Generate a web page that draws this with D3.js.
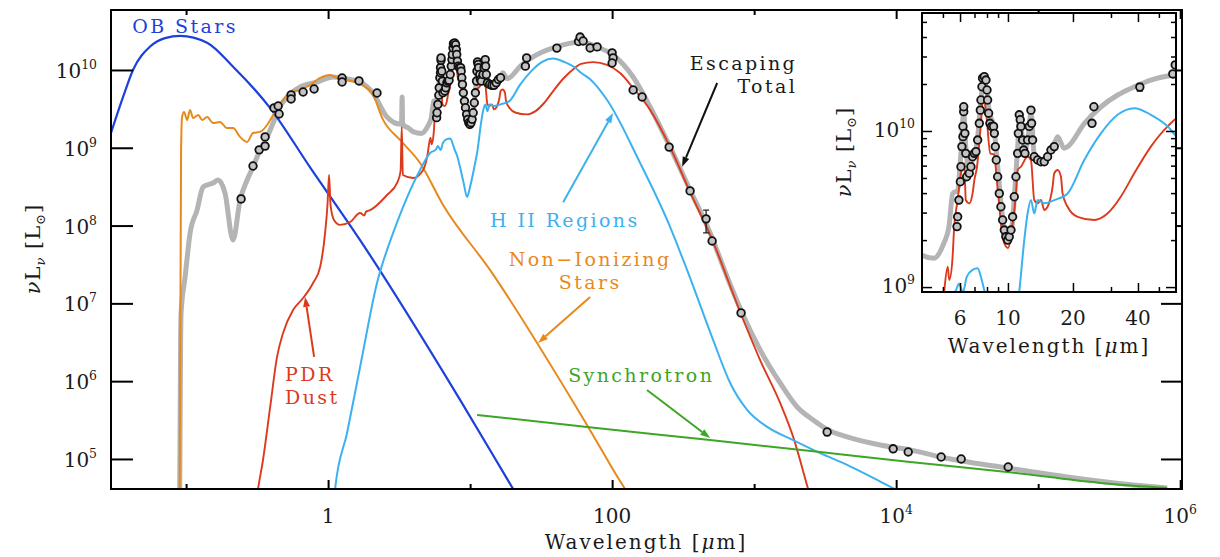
<!DOCTYPE html>
<html>
<head>
<meta charset="utf-8">
<script src="https://cdn.jsdelivr.net/npm/d3@7"></script>
<style>
  body { margin: 0; background: #fff; }
  svg text { font-family: "DejaVu Serif", serif; fill: #1a1a1a; }
</style>
</head>
<body>
<svg id="chart" width="1220" height="557"></svg>
<script>
// wavelength [micron], nu L_nu [L_sun]
const obStars = [
  [0.0296, 1.55e9], [0.036, 4.5e9], [0.0423, 1.0e10], [0.0558, 2.0e10], [0.0711, 2.57e10],
  [0.0907, 2.75e10], [0.1406, 2.24e10], [0.2143, 1.1e10], [0.391, 3.24e9], [0.747, 5.6e8],
  [1.68, 6.5e7], [8.5, 5.75e5], [20.1, 4.1e4], [31, 1.1e4]
];

const nonIonizing = [
  [0.0900, 2.0e4], [0.0922, 9.3e8], [0.0937, 2.49e9], [0.0968, 2.88e9], [0.1017, 2.28e9],
  [0.1067, 3.06e9], [0.112, 2.42e9], [0.1218, 2.64e9], [0.1299, 2.28e9], [0.1406, 2.49e9],
  [0.155, 2.08e9], [0.1735, 2.15e9], [0.194, 1.79e9], [0.214, 1.79e9], [0.240, 1.38e9],
  [0.269, 1.19e9], [0.296, 1.55e9], [0.332, 1.6e9], [0.372, 1.96e9], [0.403, 2.49e9],
  [0.437, 3.25e9], [0.482, 4.11e9], [0.540, 5.06e9], [0.635, 5.53e9], [0.747, 6.41e9],
  [0.878, 7.89e9], [1.033, 8.63e9], [1.157, 7.89e9], [1.36, 7.43e9], [1.68, 6.61e9],
  [2.07, 4.79e9], [2.44, 2.28e9], [3.21, 1.26e9], [4.44, 6.38e8], [6.45, 1.84e8],
  [13.8, 2.69e7], [67.8, 2.58e5], [123.5, 4.1e4], [157, 2.2e4]
];

const pdrDust = [
  [0.306, 2.2e4], [0.321, 4.1e4], [0.348, 9.7e4], [0.391, 4.66e5], [0.437, 2.05e6],
  [0.482, 4.17e6], [0.567, 8.2e6], [0.667, 1.17e7], [0.784, 1.83e7], [0.879, 2.94e7],
  [0.952, 8.0e7], [0.990, 1.84e8], [1.016, 4.47e8], [1.04, 1.84e8], [1.10, 1.18e8],
  [1.215, 1.02e8], [1.43, 1.11e8], [1.68, 1.45e8], [1.80, 1.35e8], [1.85, 1.51e8],
  [1.98, 1.58e8], [2.60, 2.47e8], [3.06, 3.53e8], [3.24, 5.0e8], [3.30, 1.85e9],
  [3.36, 4.47e8], [3.97, 4.09e8], [4.67, 5.19e8], [4.98, 7.59e8], [5.26, 1.35e9],
  [5.35, 1.11e9], [5.53, 1.49e9], [5.64, 2.44e9], [5.85, 3.61e9], [6.06, 5.36e9],
  [6.28, 6.21e9], [6.38, 3.61e9], [6.62, 3.44e9], [6.86, 3.98e9], [6.99, 4.85e9],
  [7.19, 5.9e9], [7.45, 1.0e10], [7.7, 1.66e10], [7.95, 1.26e10], [8.28, 7.19e9],
  [8.6, 7.08e9], [9.0, 3.98e9], [9.5, 2.0e9], [10.0, 1.78e9], [10.5, 2.51e9],
  [10.9, 3.98e9], [11.09, 5.62e9], [11.49, 5.9e9], [12.33, 6.84e9], [12.78, 6.52e9],
  [13.24, 3.61e9], [13.72, 3.44e9], [14.22, 3.61e9], [14.73, 3.12e9], [15.26, 3.27e9],
  [16.1, 4.4e9], [16.39, 5.36e9], [16.98, 5.62e9], [17.6, 5.09e9], [17.9, 3.98e9],
  [18.89, 3.27e9], [21.0, 2.82e9], [25.1, 2.69e9], [28.9, 2.96e9], [33.3, 3.79e9],
  [38.45, 5.36e9], [45.9, 7.94e9], [54.9, 1.07e10], [60.4, 1.2e10], [73.5, 1.26e10],
  [92.2, 1.16e10], [113.8, 9.14e9], [140.6, 5.87e9], [185.3, 3.06e9], [256, 1.02e9],
  [354, 2.69e8], [490, 7.59e7], [823, 6.68e6], [1102, 1.87e6], [1524, 5.25e5],
  [1883, 1.92e5], [2400, 4.1e4], [2690, 2.0e4]
];

const hiiRegions = [
  [1.084, 2.2e4], [1.12, 4.1e4], [1.36, 2.16e5], [1.68, 1.52e6], [2.21, 1.83e7],
  [2.87, 8.04e7], [3.37, 1.73e8], [4.44, 5.19e8], [5.23, 8.57e8], [5.75, 9.55e8],
  [5.93, 1.05e9], [6.2, 9.33e8], [6.44, 1.16e9], [6.86, 1.29e9], [7.24, 1.32e9],
  [7.5, 1.16e9], [7.77, 9.55e8], [8.09, 7.94e8], [8.5, 5.62e8], [9.0, 3.55e8],
  [9.52, 2.34e8], [10.0, 3.16e8], [10.7, 5.62e8], [11.28, 9.33e8], [11.9, 2.0e9],
  [12.33, 2.96e9], [12.78, 3.61e9], [13.24, 2.96e9], [13.72, 3.61e9], [14.73, 3.44e9],
  [16.39, 3.61e9], [18.89, 3.98e9], [22.56, 6.52e9], [26.96, 9.66e9], [32.19, 1.27e10],
  [38.45, 1.40e10], [45.9, 1.27e10], [54.9, 1.07e10], [60.4, 9.2e9], [70, 7.6e9],
  [92.2, 4.11e9], [157.5, 6.38e8], [244, 1.18e8], [337, 2.69e7], [514, 3.39e6],
  [678, 9.48e5], [893, 4.27e5], [1236, 2.58e5], [1883, 1.75e5], [2916, 1.19e5],
  [4519, 8.38e4], [6887, 5.7e4], [9840, 4.1e4], [11560, 3.55e4]
];

const synchrotron = [
  [11.2, 3.68e5], [66.7, 2.58e5], [490, 1.75e5], [2916, 1.23e5], [12550, 9.14e4],
  [60500, 6.81e4], [2.73e5, 4.92e4], [8.1e5, 4.24e4]
];

const escapingTotal = [
  [0.0900, 2.0e4], [0.0915, 3.2e6], [0.0922, 7.5e6], [0.0984, 2.18e7], [0.1067, 8.0e7],
  [0.1195, 1.58e8], [0.1318, 3.13e8], [0.155, 3.53e8], [0.168, 3.85e8], [0.188, 2.62e8],
  [0.214, 6.5e7], [0.240, 2.13e8], [0.269, 3.85e8], [0.296, 5.66e8], [0.332, 9.4e8],
  [0.372, 1.38e9], [0.410, 2.08e9], [0.445, 3.06e9], [0.514, 4.5e9], [0.635, 6.04e9],
  [0.837, 7.0e9], [1.084, 8.13e9], [1.36, 7.66e9], [1.68, 7.0e9], [2.07, 5.06e9],
  [2.60, 2.49e9], [3.21, 2.02e9], [3.29, 2.02e9], [3.32, 4.5e9], [3.35, 2.0e9],
  [3.7, 1.78e9], [4.0, 1.6e9], [4.54, 1.53e9], [5.05, 1.91e9], [5.33, 2.43e9],
  [5.55, 3.98e9], [5.85, 4.17e9], [6.05, 7.08e9], [6.24, 1.32e10], [6.38, 7.94e9],
  [6.6, 5.75e9], [6.9, 6.76e9], [7.2, 8.51e9], [7.5, 1.58e10], [7.7, 2.14e10],
  [7.95, 1.86e10], [8.2, 1.32e10], [8.6, 1.07e10], [8.9, 6.61e9], [9.3, 3.39e9],
  [9.7, 2.19e9], [10.0, 2.0e9], [10.4, 2.34e9], [10.8, 4.47e9], [11.1, 7.94e9],
  [11.3, 1.23e10], [11.6, 9.55e9], [12.0, 7.59e9], [12.4, 9.12e9], [12.8, 1.32e10],
  [13.2, 7.24e9], [14.0, 6.46e9], [15.3, 6.92e9], [16.4, 8.32e9], [17.0, 9.2e9],
  [18.2, 7.74e9], [18.9, 7.94e9], [22.6, 1.12e10], [27.0, 1.43e10], [32.2, 1.70e10],
  [38.5, 1.92e10], [45.9, 2.12e10], [54.9, 2.25e10], [60.4, 2.29e10], [78.4, 1.98e10],
  [101.6, 1.56e10], [140.6, 8.13e9], [185.3, 3.34e9], [256, 1.02e9], [354, 2.87e8],
  [490, 8.04e7], [646, 2.18e7], [823, 7.53e6], [1102, 2.52e6], [1524, 9.48e5],
  [2009, 4.66e5], [2603, 3.17e5], [3319, 2.36e5], [4519, 1.92e5], [7715, 1.51e5],
  [12550, 1.31e5], [20430, 1.06e5], [60500, 7.66e4], [1.6e5, 5.87e4], [4.67e5, 4.63e4],
  [8.1e5, 4.24e4]
];

// observed photometry
const photometry = [
  [0.244, 2.2e8], [0.296, 5.83e8], [0.327, 9.4e8], [0.360, 1.05e9], [0.360, 1.38e9],
  [0.416, 3.25e9], [0.445, 3.44e9], [0.452, 2.72e9], [0.549, 4.78e9], [0.549, 4.24e9],
  [0.667, 5.21e9], [0.797, 5.7e9], [1.255, 7.89e9], [1.255, 7.0e9], [1.65, 7.23e9],
  [2.21, 5.06e9], [24.5, 1.12e10], [25.0, 1.43e10], [40.8, 1.91e10], [58.0, 2.32e10],
  [59.5, 2.65e10], [62.5, 2.36e10], [70, 1.92e10], [78.4, 1.98e10], [100, 1.66e10],
  [101.6, 1.43e10], [100, 1.23e10], [140.6, 5.53e9], [162.6, 4.5e9], [252, 1.02e9],
  [354, 2.79e8], [459, 1.22e8], [506, 6.34e7], [809, 7.53e6], [3266, 2.22e5],
  [9530, 1.35e5], [12160, 1.23e5], [20750, 1.06e5], [28700, 1.0e5], [61500, 7.89e4]
];

// [wavelength, low, high]
const photErrors = [
  [0.244, 2.0e8, 2.45e8], [0.360, 0.96e9, 1.15e9], [0.549, 4.0e9, 4.5e9],
  [40.8, 1.80e10, 2.02e10], [459, 8.04e7, 1.58e8], [3266, 2.0e5, 2.45e5]
];

// mid-IR spectrum
const pahSpectrum = [
  [5.81, 2.44e9], [5.85, 2.82e9], [5.93, 3.61e9], [6.02, 4.73e9], [6.06, 5.90e9],
  [6.12, 7.94e9], [6.19, 9.20e9], [6.19, 1.07e10], [6.24, 1.33e10], [6.24, 1.43e10],
  [6.32, 9.66e9], [6.38, 7.19e9], [6.44, 5.09e9], [6.62, 5.36e9], [6.74, 5.90e9],
  [6.86, 6.84e9], [6.99, 7.19e9], [7.11, 7.38e9], [7.24, 8.75e9], [7.37, 1.12e10],
  [7.45, 1.36e10], [7.50, 1.58e10], [7.58, 1.92e10], [7.63, 2.18e10], [7.77, 2.23e10],
  [7.91, 2.12e10], [8.00, 1.83e10], [8.05, 1.58e10], [8.14, 1.30e10], [8.25, 1.12e10],
  [8.40, 1.07e10], [8.58, 1.07e10], [8.65, 9.66e9], [8.74, 7.94e9], [8.83, 6.52e9],
  [8.96, 5.09e9], [9.12, 3.98e9], [9.28, 3.27e9], [9.45, 2.69e9], [9.62, 2.32e9],
  [9.79, 2.10e9], [9.97, 2.00e9], [10.14, 2.10e9], [10.33, 2.32e9], [10.51, 2.82e9],
  [10.70, 3.79e9], [10.89, 5.09e9], [11.09, 7.19e9], [11.17, 9.66e9], [11.28, 1.27e10],
  [11.40, 1.18e10], [11.49, 1.07e10], [11.69, 8.75e9], [11.82, 7.55e9], [11.99, 7.19e9],
  [12.33, 8.75e9], [12.55, 1.07e10], [12.78, 1.36e10], [12.87, 1.12e10], [13.01, 8.75e9],
  [13.24, 6.84e9], [13.72, 6.52e9], [14.22, 6.35e9], [14.73, 6.35e9], [15.26, 6.84e9],
  [15.82, 7.55e9], [16.39, 7.94e9]
];

const xTicksMajor = [1, 100, 1e4, 1e6];
const xTicksMinor = [0.1, 10, 1e3, 1e5];
const yTicks = [1e5, 1e6, 1e7, 1e8, 1e9, 1e10];
const insetXTicks = [6, 10, 20, 40];
const insetXMinor = [5, 7, 8, 9, 30, 50];
const insetYTicks = [1e9, 1e10];
const insetYMinor = [2e9, 3e9, 4e9, 5e9, 6e9, 7e9, 8e9, 9e9, 2e10, 3e10, 4e10, 5e10];

const colors = {
	ob: '#1d3fdc',
	stars: '#e8891c',
	pdr: '#dc3a1c',
	hii: '#3cb1ef',
	sync: '#3ea526',
	total: '#b4b4b4'
};

const svg = d3.select('#chart');

const x = d3.scaleLog().domain([0.0296, 1.03e6]).range([111, 1182]);
const y = d3.scaleLog().domain([4.11e4, 5.9e10]).range([489, 10]);

const xi = d3.scaleLog().domain([4, 60]).range([922, 1176]);
const yi = d3.scaleLog().domain([9.3e8, 5.7e10]).range([292, 13]);

const defs = svg.append('defs');
defs.append('clipPath').attr('id', 'clipMain')
	.append('rect').attr('x', 111).attr('y', 10).attr('width', 1071).attr('height', 479);
defs.append('clipPath').attr('id', 'clipInset')
	.append('rect').attr('x', 922).attr('y', 13).attr('width', 254).attr('height', 279);

function lineFor(xs, ys) {
	return d3.line().x(d => xs(d[0])).y(d => ys(d[1])).curve(d3.curveMonotoneX);
}

function drawCurves(g, xs, ys, list) {
	const line = lineFor(xs, ys);
	list.forEach(c => {
		g.append('path')
			.datum(c.data)
			.attr('d', line)
			.attr('fill', 'none')
			.attr('stroke', c.color)
			.attr('stroke-width', c.width)
			.attr('stroke-linejoin', 'round');
	});
}

function drawDots(g, xs, ys, r) {
	g.selectAll(null)
		.data(photErrors)
		.enter()
		.append('path')
		.attr('d', d => {
			const px = xs(d[0]);
			return `M${px - 3},${ys(d[1])}H${px + 3}M${px},${ys(d[1])}V${ys(d[2])}M${px - 3},${ys(d[2])}H${px + 3}`;
		})
		.attr('stroke', '#222')
		.attr('stroke-width', 1.3)
		.attr('fill', 'none');

	g.selectAll(null)
		.data(pahSpectrum.concat(photometry))
		.enter()
		.append('circle')
		.attr('cx', d => xs(d[0]))
		.attr('cy', d => ys(d[1]))
		.attr('r', r)
		.attr('fill', '#c4c4c4')
		.attr('stroke', '#111')
		.attr('stroke-width', 1.8);
}

function powText(g, v, px, py, anchor, size) {
	const t = g.append('text')
		.attr('x', px).attr('y', py)
		.attr('text-anchor', anchor)
		.attr('font-size', size);
	if (v < 1000) {
		t.text(String(v));
		return t;
	}
	t.append('tspan').text('10');
	t.append('tspan').attr('dy', -9).attr('font-size', size * 0.62).text(Math.round(Math.log10(v)));
	return t;
}

function yTitle(g, px, py) {
	const t = g.append('text')
		.attr('transform', `translate(${px},${py}) rotate(-90)`)
		.attr('text-anchor', 'middle')
		.attr('font-size', 21)
		.attr('letter-spacing', 1);
	t.append('tspan').attr('font-style', 'italic').text('ν');
	t.append('tspan').text('L');
	t.append('tspan').attr('dy', 5).attr('font-size', 13).attr('font-style', 'italic').text('ν');
	t.append('tspan').attr('dy', -5).text(' [L');
	t.append('tspan').attr('dy', 5).attr('font-size', 13).text('⊙');
	t.append('tspan').attr('dy', -5).text(']');
}

function note(g, str, px, py, color, anchor) {
	return g.append('text')
		.attr('x', px).attr('y', py)
		.attr('text-anchor', anchor || 'start')
		.attr('font-size', 19)
		.attr('letter-spacing', 2.4)
		.style('fill', color)
		.text(str);
}

function arrow(g, x1, y1, x2, y2, color) {
	const a = Math.atan2(y2 - y1, x2 - x1);
	const len = 10, half = 3.5;
	const bx = x2 - len * Math.cos(a), by = y2 - len * Math.sin(a);
	g.append('line')
		.attr('x1', x1).attr('y1', y1).attr('x2', bx).attr('y2', by)
		.attr('stroke', color).attr('stroke-width', 2);
	g.append('path')
		.attr('d', `M${x2},${y2}L${bx + half * Math.sin(a)},${by - half * Math.cos(a)}L${bx - half * Math.sin(a)},${by + half * Math.cos(a)}Z`)
		.attr('fill', color);
}

// ---- main panel ----
const main = svg.append('g');
const plot = main.append('g').attr('clip-path', 'url(#clipMain)');

drawCurves(plot, x, y, [
	{ data: escapingTotal, color: colors.total, width: 5 },
	{ data: obStars, color: colors.ob, width: 2.2 },
	{ data: nonIonizing, color: colors.stars, width: 2 },
	{ data: pdrDust, color: colors.pdr, width: 1.9 },
	{ data: hiiRegions, color: colors.hii, width: 2 },
	{ data: synchrotron, color: colors.sync, width: 2 }
]);
drawDots(plot, x, y, 3.8);

// labels and arrows
const notes = main.append('g');

note(notes, 'OB Stars', x(0.0418), y(2.99e10), colors.ob);

note(notes, 'PDR', x(0.498), y(9.8e5) - 1, colors.pdr);
note(notes, 'Dust', x(0.498), y(9.8e5) + 22, colors.pdr);
arrow(notes, x(0.797), y(2.05e6), x(0.689), y(1.21e7), colors.pdr);

note(notes, 'H II Regions', x(13.8), y(9.6e7), colors.hii);
arrow(notes, x(45.2), y(2.0e8), x(101.6), y(2.8e9), colors.hii);

note(notes, 'Non−Ionizing', x(70), y(2.94e7) - 1, colors.stars, 'middle');
note(notes, 'Stars', x(70), y(2.94e7) + 22, colors.stars, 'middle');
arrow(notes, x(70), y(1.21e7), x(30.1), y(3.1e6), colors.stars);

note(notes, 'Synchrotron', x(49), y(9.8e5), colors.sync);
arrow(notes, x(176), y(7.7e5), x(490), y(1.86e5), colors.sync);

note(notes, 'Escaping', x(2009), y(9.7e9) - 1, '#1a1a1a', 'end');
note(notes, 'Total', x(2009), y(9.7e9) + 22, '#1a1a1a', 'end');
arrow(notes, x(549), y(6.8e9), x(311), y(5.7e8), '#111');

// axes ticks
function ticks(g, axis, tf) {
	g.attr('transform', tf)
		.call(axis.tickFormat(() => ''))
		.call(s => s.select('.domain').remove())
		.call(s => s.selectAll('line').attr('stroke', '#000').attr('stroke-width', 2));
}

ticks(main.append('g'), d3.axisBottom(x).tickValues(xTicksMajor).tickSizeInner(-9).tickSizeOuter(0), 'translate(0,489)');
ticks(main.append('g'), d3.axisBottom(x).tickValues(xTicksMinor).tickSizeInner(-5).tickSizeOuter(0), 'translate(0,489)');
ticks(main.append('g'), d3.axisTop(x).tickValues(xTicksMajor).tickSizeInner(-9).tickSizeOuter(0), 'translate(0,10)');
ticks(main.append('g'), d3.axisTop(x).tickValues(xTicksMinor).tickSizeInner(-5).tickSizeOuter(0), 'translate(0,10)');
ticks(main.append('g'), d3.axisLeft(y).tickValues(yTicks).tickSizeInner(-22).tickSizeOuter(0), 'translate(111,0)');
ticks(main.append('g'), d3.axisRight(y).tickValues(yTicks).tickSizeInner(-21).tickSizeOuter(0), 'translate(1182,0)');

main.append('rect')
	.attr('x', 111).attr('y', 10).attr('width', 1071).attr('height', 479)
	.attr('fill', 'none').attr('stroke', '#000').attr('stroke-width', 2);

const labels = main.append('g');
yTicks.forEach(v => powText(labels, v, 97, y(v) + 8, 'end', 20));
xTicksMajor.forEach(v => powText(labels, v, x(v), 523, 'middle', 20));

labels.append('text').attr('x', 646).attr('y', 549).attr('text-anchor', 'middle')
	.attr('font-size', 20).attr('letter-spacing', 2)
	.html('Wavelength [<tspan font-style="italic">μ</tspan>m]');
yTitle(labels, 40, 249);

// ---- inset ----
const inset = svg.append('g');
inset.append('rect')
	.attr('x', 922).attr('y', 13).attr('width', 254).attr('height', 279)
	.attr('fill', '#fff');

const iplot = inset.append('g').attr('clip-path', 'url(#clipInset)');
drawCurves(iplot, xi, yi, [
	{ data: escapingTotal, color: colors.total, width: 5 },
	{ data: pdrDust, color: colors.pdr, width: 1.9 },
	{ data: hiiRegions, color: colors.hii, width: 2 }
]);
drawDots(iplot, xi, yi, 3.8);

ticks(inset.append('g'), d3.axisBottom(xi).tickValues(insetXTicks).tickSizeInner(-9).tickSizeOuter(0), 'translate(0,292)');
ticks(inset.append('g'), d3.axisBottom(xi).tickValues(insetXMinor).tickSizeInner(-5).tickSizeOuter(0), 'translate(0,292)');
ticks(inset.append('g'), d3.axisTop(xi).tickValues(insetXTicks).tickSizeInner(-9).tickSizeOuter(0), 'translate(0,13)');
ticks(inset.append('g'), d3.axisTop(xi).tickValues(insetXMinor).tickSizeInner(-5).tickSizeOuter(0), 'translate(0,13)');
ticks(inset.append('g'), d3.axisLeft(yi).tickValues(insetYTicks).tickSizeInner(-10).tickSizeOuter(0), 'translate(922,0)');
ticks(inset.append('g'), d3.axisLeft(yi).tickValues(insetYMinor).tickSizeInner(-5).tickSizeOuter(0), 'translate(922,0)');
ticks(inset.append('g'), d3.axisRight(yi).tickValues(insetYTicks).tickSizeInner(-10).tickSizeOuter(0), 'translate(1176,0)');
ticks(inset.append('g'), d3.axisRight(yi).tickValues(insetYMinor).tickSizeInner(-5).tickSizeOuter(0), 'translate(1176,0)');

inset.selectAll('.tick line').attr('stroke-width', 1.5);

inset.append('rect')
	.attr('x', 922).attr('y', 13).attr('width', 254).attr('height', 279)
	.attr('fill', 'none').attr('stroke', '#000').attr('stroke-width', 2);

insetYTicks.forEach(v => powText(inset, v, 915, yi(v) + 6, 'end', 20));
insetXTicks.forEach(v => powText(inset, v, xi(v), 325, 'middle', 20));

inset.append('text').attr('x', 1049).attr('y', 353).attr('text-anchor', 'middle')
	.attr('font-size', 20).attr('letter-spacing', 2)
	.html('Wavelength [<tspan font-style="italic">μ</tspan>m]');
yTitle(inset, 851, 152);
</script>
</body>
</html>
